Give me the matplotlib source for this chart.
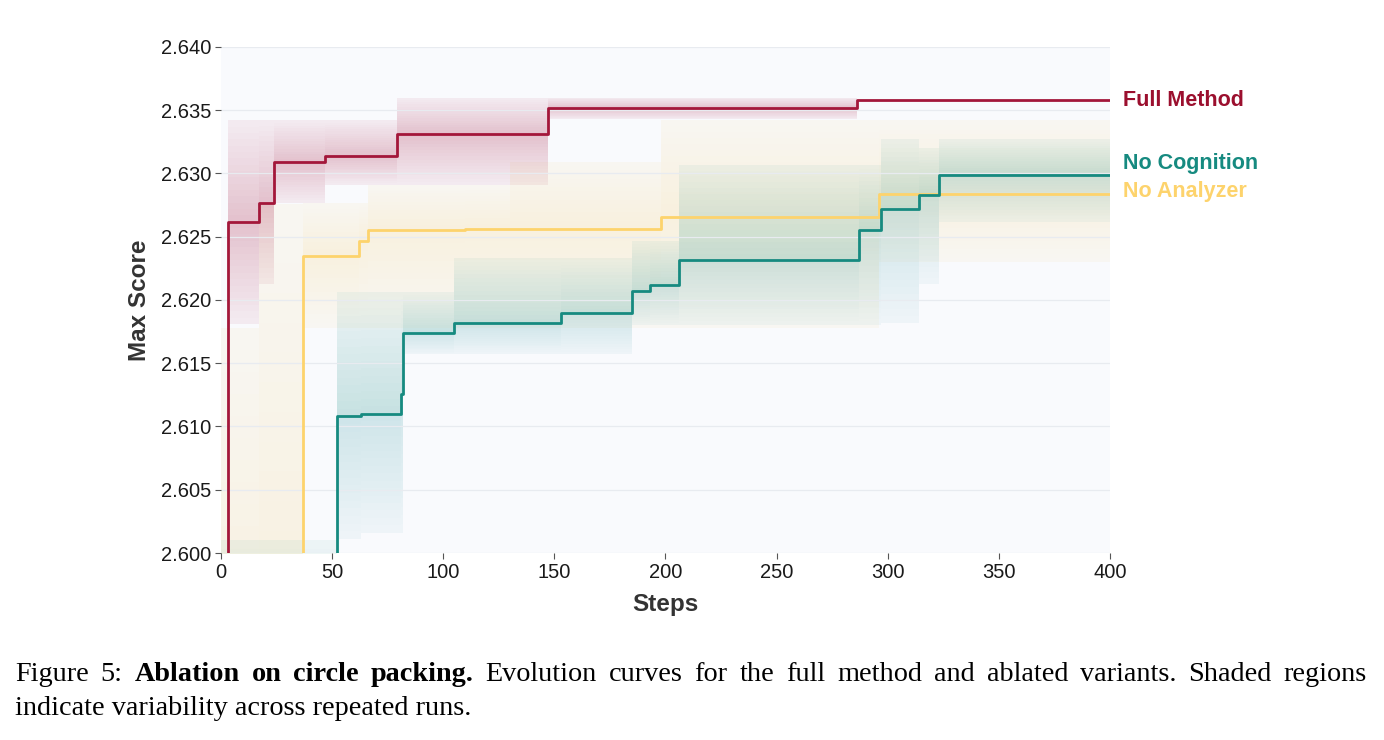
import numpy as np
import matplotlib
matplotlib.use("Agg")
import matplotlib.pyplot as plt

# Step curves: change points, mean value, band low/high
full_x = [0, 3, 17, 24, 47, 79, 147, 286, 400]
full_y = [2.5900, 2.6262, 2.6277, 2.6309, 2.6314, 2.6331, 2.6352, 2.6358, 2.6358]
full_lo = [2.5900, 2.6181, 2.6213, 2.6277, 2.6291, 2.6291, 2.6343, 2.6358, 2.6358]
full_hi = [2.5900, 2.6342, 2.6342, 2.6342, 2.6342, 2.6360, 2.6360, 2.6358, 2.6358]

cog_x = [0, 52, 63, 81, 82, 105, 153, 185, 193, 206, 287, 297, 314, 323, 400]
cog_y = [2.5900, 2.6108, 2.6110, 2.6126, 2.6174, 2.6182, 2.6190, 2.6207, 2.6212,
         2.6232, 2.6255, 2.6272, 2.6283, 2.6299, 2.6299]
cog_lo = [2.5900, 2.6011, 2.6016, 2.6016, 2.6157, 2.6157, 2.6157, 2.6180, 2.6180,
          2.6180, 2.6180, 2.6182, 2.6213, 2.6262, 2.6262]
cog_hi = [2.6010, 2.6206, 2.6206, 2.6206, 2.6206, 2.6233, 2.6233, 2.6247, 2.6247,
          2.6307, 2.6307, 2.6327, 2.6320, 2.6327, 2.6327]

ana_x = [0, 17, 37, 62, 66, 110, 130, 198, 296, 400]
ana_y = [2.5900, 2.5900, 2.6235, 2.6247, 2.6255, 2.6256, 2.6256, 2.6266, 2.6284, 2.6284]
ana_lo = [2.5900, 2.5900, 2.6178, 2.6178, 2.6178, 2.6178, 2.6178, 2.6178, 2.6230, 2.6230]
ana_hi = [2.6178, 2.6276, 2.6277, 2.6277, 2.6291, 2.6291, 2.6309, 2.6342, 2.6342, 2.6342]

c_full = "#A3173A"
c_cog = "#168A80"
c_ana = "#FDD36C"

yticks = [2.600, 2.605, 2.610, 2.615, 2.620, 2.625, 2.630, 2.635, 2.640]
xticks = [0, 50, 100, 150, 200, 250, 300, 350, 400]

caption = [("Figure", False), ("5:", False), ("Ablation", True), ("on", True),
           ("circle", True), ("packing.", True), ("Evolution", False), ("curves", False),
           ("for", False), ("the", False), ("full", False), ("method", False), ("and", False),
           ("ablated", False), ("variants.", False), ("Shaded", False), ("regions", False)]
caption2 = "indicate variability across repeated runs."


def band(ax, x, y, lo, hi, color, color_low, base, peak, n=16):
    # non-overlapping strips, opacity rising from band edge towards the line
    x = np.array(x)
    y = np.array(y)
    lo = np.array(lo)
    hi = np.array(hi)
    for k in range(n):
        fo = 1 - k / n
        fi = 1 - (k + 1) / n
        a = base + (peak - base) * k / (n - 1)
        ax.fill_between(x, y + (hi - y) * fi, y + (hi - y) * fo, step="post",
                        color=color, alpha=a, lw=0, zorder=1, antialiased=False)
        ax.fill_between(x, y - (y - lo) * fo, y - (y - lo) * fi, step="post",
                        color=color_low, alpha=a, lw=0, zorder=1, antialiased=False)


W, H = 1384, 740
fig = plt.figure(figsize=(W / 100, H / 100), dpi=100)
ax = fig.add_axes([0.1597, 0.2527, 0.8020 - 0.1597, 0.9365 - 0.2527])
ax.set_facecolor("#F9FAFD")

band(ax, ana_x, ana_y, ana_lo, ana_hi, "#F5CF70", "#F5D27A", base=0.08, peak=0.22)
band(ax, cog_x, cog_y, cog_lo, cog_hi, "#2A958D", "#4AA3AE", base=0.06, peak=0.24)
band(ax, full_x, full_y, full_lo, full_hi, "#A8244A", "#A8244A", base=0.07, peak=0.26)

ax.plot(ana_x, ana_y, drawstyle="steps-post", color=c_ana, lw=2, zorder=3)
ax.plot(cog_x, cog_y, drawstyle="steps-post", color=c_cog, lw=2, zorder=3)
ax.plot(full_x, full_y, drawstyle="steps-post", color=c_full, lw=2, zorder=3)

ax.set_xlim(0, 400)
ax.set_ylim(2.600, 2.640)
ax.set_xticks(xticks)
ax.set_yticks(yticks)
ax.set_yticklabels(["%.3f" % v for v in yticks])
ax.yaxis.grid(True, color="#E8EBF0", lw=0.9)
ax.set_axisbelow(False)
for s in ax.spines.values():
    s.set_visible(False)
ax.tick_params(axis="both", length=4, width=0.8, color="#555555",
               labelsize=14.5, labelcolor="#1a1a1a", pad=3)
for lab in ax.get_xticklabels() + ax.get_yticklabels():
    lab.set_fontfamily("Liberation Sans")

ax.set_xlabel("Steps", fontsize=17.5, fontweight="bold", color="#333333",
              fontfamily="Liberation Sans", labelpad=8)
ax.set_ylabel("Max Score", fontsize=17.5, fontweight="bold", color="#333333",
              fontfamily="Liberation Sans", labelpad=7)

# end labels
ax.text(406, full_y[-1], "Full Method", color="#9B0F2E", fontsize=15.5, fontweight="bold",
        fontfamily="Liberation Sans", va="center", ha="left", clip_on=False)
ax.text(406, cog_y[-1] + 0.0009, "No Cognition", color=c_cog, fontsize=15.5, fontweight="bold",
        fontfamily="Liberation Sans", va="center", ha="left", clip_on=False)
ax.text(406, ana_y[-1] + 0.0002, "No Analyzer", color=c_ana, fontsize=15.5, fontweight="bold",
        fontfamily="Liberation Sans", va="center", ha="left", clip_on=False)

# caption, first line justified between x=15 and x=1367 px
cap = dict(fontfamily="Liberation Serif", fontsize=20.3, color="black", va="baseline", ha="left")
renderer = fig.canvas.get_renderer()
texts = []
for word, bold in caption:
    t = fig.text(0, 1 - 681 / H, word, fontweight="bold" if bold else "normal", **cap)
    texts.append(t)
widths = [t.get_window_extent(renderer).width for t in texts]
gap = (1367 - 15 - sum(widths)) / (len(texts) - 1)
xpos = 15
for t, w in zip(texts, widths):
    t.set_x(xpos / W)
    xpos += w + gap
fig.text(15 / W, 1 - 715 / H, caption2, **cap)

fig.savefig("out.png", dpi=100)
